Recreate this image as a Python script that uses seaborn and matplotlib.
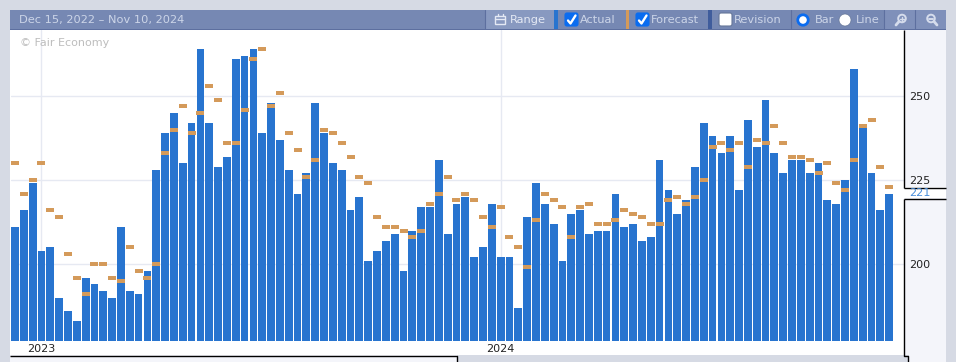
import matplotlib
matplotlib.use("Agg")
import matplotlib.pyplot as plt
import numpy as np
import pandas as pd
import seaborn as sns
from matplotlib.patches import Circle, FancyBboxPatch, Rectangle

# === DATA ===
actual = [211, 216, 224, 204, 205, 190, 186, 183, 196, 194,
          192, 190, 211, 192, 191, 198, 228, 239, 245, 230,
          242, 264, 242, 229, 232, 261, 262, 264, 239, 248,
          237, 228, 221, 227, 248, 239, 230, 228, 216, 220,
          201, 204, 207, 209, 198, 210, 217, 217, 231, 209,
          218, 220, 202, 205, 218, 202, 202, 187, 214, 224,
          218, 212, 201, 215, 216, 209, 210, 210, 221, 211,
          212, 207, 208, 231, 222, 215, 219, 229, 242, 238,
          233, 238, 222, 243, 235, 249, 233, 227, 231, 231,
          227, 230, 219, 218, 225, 258, 241, 227, 216, 221]
forecast = [230, 221, 225, 230, 216, 214, 203, 196, 191, 200,
            200, 196, 195, 205, 198, 196, 200, 233, 240, 247,
            239, 245, 253, 249, 236, 236, 246, 261, 264, 247,
            251, 239, 234, 226, 231, 240, 239, 236, 232, 226,
            224, 214, 211, 211, 210, 208, 210, 218, 221, 226,
            219, 221, 219, 214, 211, 217, 208, 205, 199, 213,
            221, 219, 217, 208, 217, 218, 212, 212, 213, 216,
            215, 214, 212, 212, 219, 220, 218, 220, 225, 235,
            236, 234, 236, 229, 237, 236, 241, 236, 232, 232,
            231, 227, 230, 224, 222, 231, 241, 243, 229, 223]
year_ticks = [3, 55]
year_labels = ["2023", "2024"]
value_ticks = [200, 225, 250]

BAR_BLUE = "#2874cf"
FC_ORANGE = "#d49a5a"
PAGE = "#d6dae4"
PANEL = "#f4f5fa"
HEADER = "#7688b3"
HEADER_LIGHT = "#8899c0"
HEADER_TEXT = "#ccd5e8"
GRID = "#e6e9f2"
W, H = 956, 362

sns.set_theme(style="white")
plt.rcParams["font.family"] = ["DejaVu Sans"]

df = pd.DataFrame({"week": np.arange(len(actual)), "actual": actual, "forecast": forecast})

fig = plt.figure(figsize=(W / 100, H / 100), dpi=100, facecolor=PAGE)


def px_axes(x0, y0, x1, y1, **kw):
    return fig.add_axes([x0 / W, 1 - y1 / H, (x1 - x0) / W, (y1 - y0) / H], **kw)


# === BACKGROUND LAYER ===
under = px_axes(0, 0, W, H, zorder=-1)
under.set_xlim(0, W)
under.set_ylim(H, 0)
under.axis("off")
under.add_patch(Rectangle((904, 30), 42, 332, color=PANEL, lw=0))
under.add_patch(Rectangle((10, 30), 894, 325, color="white", lw=0))
under.add_patch(Rectangle((10, 355), 447, 7, color=PANEL, lw=0))
under.add_patch(Rectangle((904, 187), 42, 11, color="white", lw=0))
under.add_patch(Rectangle((904, 355), 5, 7, color=PAGE, lw=0))

# === CHART ===
ax = px_axes(11, 30, 904, 341, zorder=1)
ax.set_facecolor("white")
sns.barplot(data=df, x="week", y="actual", color=BAR_BLUE, saturation=1, width=0.88,
            edgecolor="none", linewidth=0, ax=ax, zorder=2)
# forecast dash: filled box, twice as wide as tall
dash = [(-1, -0.5), (1, -0.5), (1, 0.5), (-1, 0.5), (-1, -0.5)]
sns.scatterplot(data=df, x="week", y="forecast", color=FC_ORANGE, marker=dash, s=33,
                linewidth=0, ax=ax, zorder=3, clip_on=False)
ax.set_xlim(-0.45, 100.68)
ax.set_ylim(177.1, 269.7)
ax.set_xlabel("")
ax.set_ylabel("")
ax.set_xticks(year_ticks)
ax.set_xticklabels(year_labels, fontsize=8, color="#222222")
ax.yaxis.tick_right()
ax.set_yticks(value_ticks)
ax.set_yticklabels([str(v) for v in value_ticks], fontsize=8, color="#222222")
ax.tick_params(axis="both", length=0)
ax.tick_params(axis="x", pad=2.2)
ax.tick_params(axis="y", pad=3.5)
ax.grid(True, color=GRID, lw=1, zorder=0)
ax.set_axisbelow(True)
for s in ax.spines.values():
    s.set_visible(False)
ax.text(0.0098, 0.957, "© Fair Economy", transform=ax.transAxes, fontsize=8, color="#bdbdbd", va="center")

# === TOOLBAR AND FRAME ===
top = px_axes(0, 0, W, H, zorder=2)
top.patch.set_alpha(0)
top.set_xlim(0, W)
top.set_ylim(H, 0)
top.axis("off")

top.add_patch(Rectangle((10, 10), 936, 19, color=HEADER, lw=0))
top.add_patch(Rectangle((10, 29), 936, 1, color="#5d6f9f", lw=0))
top.add_patch(Rectangle((486, 10), 68, 19, color=HEADER_LIGHT, lw=0))
top.add_patch(Rectangle((885, 10), 61, 19, color="#7f90ba", lw=0))
top.add_patch(Rectangle((554, 10), 4, 19, color=BAR_BLUE, lw=0))
top.add_patch(Rectangle((626, 10), 3, 19, color=FC_ORANGE, lw=0))
top.add_patch(Rectangle((708, 10), 4, 19, color="#3f5c9c", lw=0))
for x in [485, 791.5, 884.5, 915.5]:
    top.plot([x, x], [10, 29], color="#5d6f9f", lw=0.8)

top.text(19, 20, "Dec 15, 2022 – Nov 10, 2024", fontsize=8.2, color=HEADER_TEXT, va="center")
for x, label, col in [(510, "Range", "#e4e9f4"), (580, "Actual", HEADER_TEXT), (651, "Forecast", HEADER_TEXT),
                      (734, "Revision", HEADER_TEXT), (815, "Bar", HEADER_TEXT), (856, "Line", HEADER_TEXT)]:
    top.text(x, 20, label, fontsize=8.2, color=col, va="center")

# calendar icon
top.add_patch(Rectangle((495.5, 16), 10, 8, fc="none", ec="#e4e9f4", lw=1))
top.plot([495.5, 505.5], [19, 19], color="#e4e9f4", lw=1)
top.plot([498, 498], [14, 16], color="#e4e9f4", lw=1)
top.plot([503, 503], [14, 16], color="#e4e9f4", lw=1)

# checkboxes
for x, fill in [(565, "#0a6cf0"), (636, "#0a6cf0"), (719, "white")]:
    top.add_patch(FancyBboxPatch((x + 1.5, 14.5), 10, 10, boxstyle="round,pad=1.5,rounding_size=2",
                                 fc=fill, ec="#667799" if fill == "white" else fill, lw=0.8))
for x in [565, 636]:
    top.plot([x + 3, x + 5.5, x + 10.5], [20.5, 23.5, 15.5], color="white", lw=1.7)

# radio buttons
top.add_patch(Circle((803, 20), 5.2, fc="white", ec="#0a6cf0", lw=2.0))
top.add_patch(Circle((845, 20), 6, fc="white", ec="#667799", lw=0.5))

# zoom icons: plus has its handle lower left, minus lower right
ICON = "#d5dcec"
top.add_patch(Circle((902, 18.5), 3.8, fc="none", ec=ICON, lw=1.4))
top.plot([899, 896], [21.5, 25], color=ICON, lw=2)
top.plot([900, 904], [18.5, 18.5], color=ICON, lw=1)
top.plot([902, 902], [16.5, 20.5], color=ICON, lw=1)
top.add_patch(Circle((931, 18.5), 3.8, fc="none", ec=ICON, lw=1.4))
top.plot([934, 937], [21.5, 25], color=ICON, lw=2)
top.plot([929, 933], [18.5, 18.5], color=ICON, lw=1.4)

# frame lines
LINE = dict(color="black", lw=1, solid_capstyle="butt")
top.plot([10, 457.5, 457.5], [355.5, 355.5, 362], **LINE)
top.plot([904.5, 904.5], [30, 187.5], **LINE)
top.plot([904.5, 946], [187.5, 187.5], **LINE)
top.plot([904.5, 946], [198.5, 198.5], **LINE)
top.plot([904.5, 904.5, 908.5, 908.5], [198.5, 355.5, 355.5, 362], **LINE)
top.text(909, 193, str(actual[-1]), fontsize=8.2, color="#4a8fdc", va="center")

fig.savefig("out.png", dpi=100, facecolor=PAGE)
